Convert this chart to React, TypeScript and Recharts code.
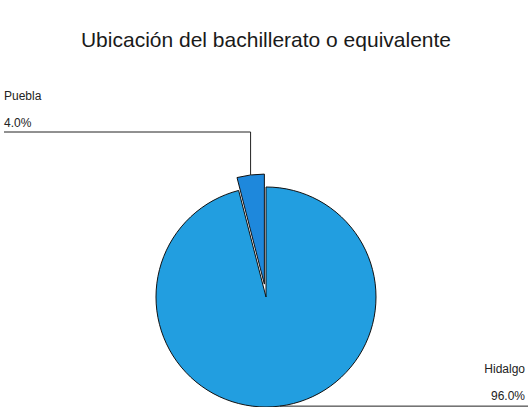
import React from 'react';
import { PieChart, Pie, Cell } from 'recharts';

// Ubicación del bachillerato — share of respondents by state
const states = ['Hidalgo', 'Puebla'];
const shares = [96.0, 4.0];
const sliceColors = ['#229ee0', '#1e88dc'];

const RADIAN = Math.PI / 180;
// chart margin is 5 on each side, so cx/cy are relative to that offset
const CX = 261;
const CY = 292;
const R = 110;
const EXPLODE = 13;

const data = states.map((name, i) => ({ name, value: shares[i] }));

// Puebla's mid angle (clockwise from 12 o'clock, start 90)
const pueblaMid = 90 - 360 * (shares[0] + shares[1] / 2) / 100;
const explodeDx = EXPLODE * Math.cos(pueblaMid * RADIAN);
const explodeDy = -EXPLODE * Math.sin(pueblaMid * RADIAN);

const textStyle = { fontFamily: 'Liberation Sans, Arial, sans-serif', fontSize: 12, fill: '#222' };

const renderLabel = (only: string) => (props: any) => {
  const { cx, cy, midAngle, outerRadius, name, value } = props;
  if (name !== only) return null;
  const px = cx + outerRadius * Math.cos(-midAngle * RADIAN);
  const py = cy + outerRadius * Math.sin(-midAngle * RADIAN);
  const pct = `${Number(value).toFixed(1)}%`;
  if (name === 'Puebla') {
    return (
      <g>
        <polyline points={`${px},${py} ${px},132 4,132`} fill="none" stroke="#222" strokeWidth={1} />
        <text x={4} y={100} style={textStyle}>{name}</text>
        <text x={4} y={127} style={textStyle}>{pct}</text>
      </g>
    );
  }
  return (
    <g>
      <polyline points={`${px},${py} 528,${py}`} fill="none" stroke="#222" strokeWidth={1} />
      <text x={525} y={373} textAnchor="end" style={textStyle}>{name}</text>
      <text x={525} y={400} textAnchor="end" style={textStyle}>{pct}</text>
    </g>
  );
};

export default function App() {
  return (
    <div style={{ position: 'absolute', left: 0, top: 0, width: 528, height: 407, background: '#fff' }}>
      <PieChart width={528} height={407}>
        <text
          x={266}
          y={47}
          textAnchor="middle"
          style={{ fontFamily: 'Liberation Sans, Arial, sans-serif', fontSize: 21, fill: '#1a1a1a' }}
        >
          Ubicación del bachillerato o equivalente
        </text>
        <Pie
          data={data}
          dataKey="value"
          nameKey="name"
          cx={CX}
          cy={CY}
          outerRadius={R}
          startAngle={90}
          endAngle={-270}
          isAnimationActive={false}
          labelLine={false}
          label={renderLabel('Hidalgo')}
        >
          {data.map((d, i) => (
            <Cell
              key={d.name}
              fill={i === 0 ? sliceColors[0] : 'none'}
              stroke={i === 0 ? '#111' : 'none'}
              strokeWidth={1}
            />
          ))}
        </Pie>
        <Pie
          data={data}
          dataKey="value"
          nameKey="name"
          cx={CX + explodeDx}
          cy={CY + explodeDy}
          outerRadius={R}
          startAngle={90}
          endAngle={-270}
          isAnimationActive={false}
          labelLine={false}
          label={renderLabel('Puebla')}
        >
          {data.map((d, i) => (
            <Cell
              key={d.name}
              fill={i === 1 ? sliceColors[1] : 'none'}
              stroke={i === 1 ? '#111' : 'none'}
              strokeWidth={1}
            />
          ))}
        </Pie>
      </PieChart>
    </div>
  );
}
